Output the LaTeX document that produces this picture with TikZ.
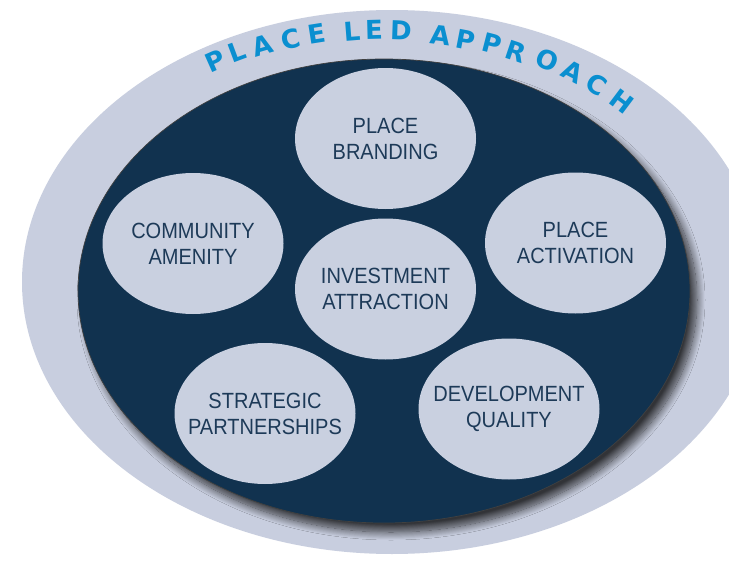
\documentclass[tikz,border=0pt]{standalone}
\usepackage{fontspec}
\setmainfont{Liberation Sans}
\newfontfamily\labelfont[FakeStretch=0.91]{Liberation Sans}
\newfontfamily\titlefont{DejaVu Sans}
\usetikzlibrary{shapes.geometric,shadows.blur}

\definecolor{outerc}{HTML}{C8CEDF}
\definecolor{innerc}{HTML}{11324F}
\definecolor{bubblec}{HTML}{C9D0E0}
\definecolor{labelc}{HTML}{1D3A58}
\definecolor{titlec}{HTML}{0A8FD0}

\begin{document}
\begin{tikzpicture}[x=1pt,y=-1pt,
  bubble/.style={ellipse, fill=bubblec, minimum width=181pt, minimum height=141pt, inner sep=0pt},
  lbl/.style={inner sep=0pt, align=center, text=labelc,
    font=\labelfont\fontsize{22}{26}\selectfont},
  ttl/.style={text=titlec, font=\titlefont\bfseries\fontsize{26}{26}\selectfont, inner sep=0pt}]
\useasboundingbox (0,0) rectangle (729,562);
\fill[white] (0,0) rectangle (729,562);
\begin{scope}
\clip (0,0) rectangle (729,562);
\node[ellipse, fill=outerc, minimum width=740pt, minimum height=544pt, inner sep=0pt] (outer) at (392,282) {};
\node[ellipse, fill=innerc, draw=black!75, line width=0.7pt, minimum width=612pt, minimum height=464pt, inner sep=0pt,
  blur shadow={shadow xshift=7pt, shadow yshift=-9pt, shadow blur radius=8pt, shadow blur steps=16, shadow opacity=75}] (inner) at (384,291) {};
\end{scope}

\node[bubble] (brand) at (385.5,138.5) {};
\node[bubble] (comm) at (193,243.5) {};
\node[bubble] (act) at (575.5,243) {};
\node[bubble] (inv) at (385.5,289) {};
\node[bubble] (strat) at (265,413.5) {};
\node[bubble] (dev) at (509,409) {};

\node[lbl] (brandl) at (brand) {PLACE\\BRANDING};
\node[lbl] (comml) at (comm) {COMMUNITY\\AMENITY};
\node[lbl] (actl) at (act) {PLACE\\ACTIVATION};
\node[lbl] (invl) at (inv) {INVESTMENT\\ATTRACTION};
\node[lbl] (stratl) at (strat) {STRATEGIC\\PARTNERSHIPS};
\node[lbl] (devl) at (dev) {DEVELOPMENT\\QUALITY};

\node[ttl, rotate=24] (t1) at (215,61) {P};
\node[ttl, rotate=20.5] (t2) at (237,52) {L};
\node[ttl, rotate=16.5] (t3) at (262,46) {A};
\node[ttl, rotate=12.5] (t4) at (291,39) {C};
\node[ttl, rotate=9] (t5) at (317,34) {E};
\node[ttl, rotate=4.5] (t6) at (352,31) {L};
\node[ttl, rotate=1.5] (t7) at (374,30) {E};
\node[ttl, rotate=-2] (t8) at (401,30) {D};
\node[ttl, rotate=-7] (t9) at (441,35) {A};
\node[ttl, rotate=-11] (t10) at (466,40) {P};
\node[ttl, rotate=-14.5] (t11) at (492,44) {P};
\node[ttl, rotate=-18.5] (t12) at (516,52) {R};
\node[ttl, rotate=-23] (t13) at (547,60) {O};
\node[ttl, rotate=-27.5] (t14) at (573,72) {A};
\node[ttl, rotate=-32] (t15) at (597,85) {C};
\node[ttl, rotate=-37] (t16) at (622,101) {H};
\end{tikzpicture}
\end{document}
